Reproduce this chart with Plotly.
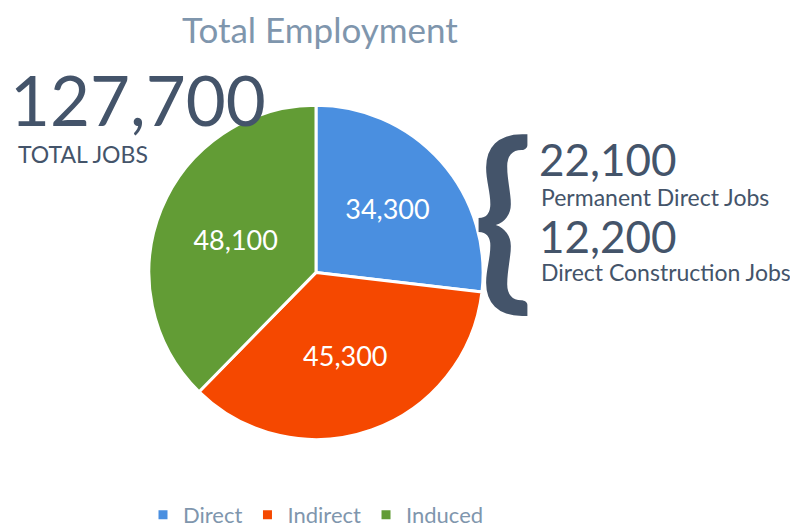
import plotly.graph_objects as go

labels = ["Direct", "Indirect", "Induced"]
values = [34300, 45300, 48100]
colors = ["#4A8FE0", "#F54800", "#629C35"]
total_jobs = "127,700"
direct_breakdown = [("22,100", "Permanent Direct Jobs"), ("12,200", "Direct Construction Jobs")]

W, H = 798, 528
cx, cy, r = 308, 269, 170

fig = go.Figure(go.Pie(
    labels=labels, values=values, sort=False, direction="clockwise", rotation=0,
    marker=dict(colors=colors, line=dict(color="white", width=3)),
    texttemplate="%{value:,}", textposition="inside", insidetextorientation="horizontal",
    textfont=dict(color="white", size=27, family="Lato"),
    domain=dict(x=[(cx - r) / W, (cx + r) / W], y=[1 - (cy + r) / H, 1 - (cy - r) / H]),
    hoverinfo="label+value",
))

dark = "#44546A"
ann = [
    dict(text="Total Employment", x=312 / W, y=1 - 21 / H, font=dict(size=35, color="#7F96AD")),
    dict(text=total_jobs, x=0 / W, y=1 - 93 / H, xanchor="left", font=dict(size=69, color=dark)),
    dict(text="TOTAL JOBS", x=8 / W, y=1 - 149 / H, xanchor="left", font=dict(size=23, color=dark)),
    dict(text="<b>{</b>", x=495 / W, y=1 - 206 / H, font=dict(size=196, color=dark)),
    dict(text=direct_breakdown[0][0], x=529 / W, y=1 - 154 / H, xanchor="left", font=dict(size=44, color=dark)),
    dict(text=direct_breakdown[0][1], x=531 / W, y=1 - 192 / H, xanchor="left", font=dict(size=23, color=dark)),
    dict(text=direct_breakdown[1][0], x=529 / W, y=1 - 232 / H, xanchor="left", font=dict(size=44, color=dark)),
    dict(text=direct_breakdown[1][1], x=531 / W, y=1 - 269 / H, xanchor="left", font=dict(size=23, color=dark)),
]
for a in ann:
    a.update(xref="paper", yref="paper", showarrow=False, yanchor="middle")
    a["font"]["family"] = "Lato"

fig.update_layout(
    width=W, height=H, margin=dict(l=0, r=0, t=0, b=0),
    paper_bgcolor="white", plot_bgcolor="white",
    annotations=ann,
    showlegend=True,
    legend=dict(orientation="h", x=308 / W, xanchor="center", y=1 - 516 / H, yanchor="middle",
                font=dict(size=22, color="#7F96AD", family="Lato"), traceorder="normal"),
)
fig.write_html("out.html")
